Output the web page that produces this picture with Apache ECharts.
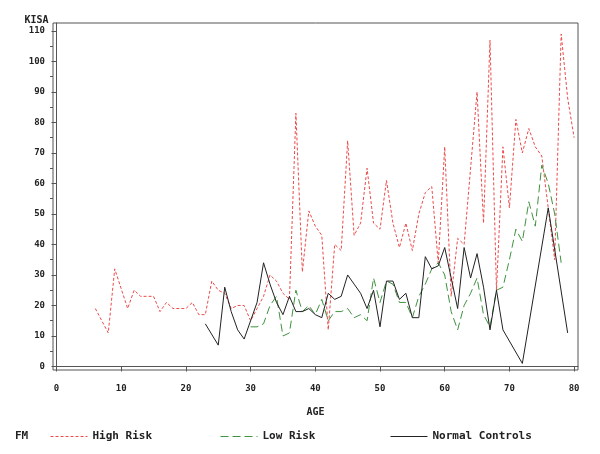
<!DOCTYPE html>
<html>
<head>
<meta charset="utf-8">
<script src="https://cdn.jsdelivr.net/npm/echarts@6/dist/echarts.min.js"></script>
<style>
html,body{margin:0;padding:0;background:#fff;}
#main{width:600px;height:454px;}
</style>
</head>
<body>
<div id="main"></div>
<script>
// High Risk
var highAge=[6,8,9,11,12,13,14,15,16,17,18,19,20,21,22,23,24,25,26,27,28,29,30,31,32,33,34,35,36,37,38,39,40,
    41,42,43,44,45,46,47,48,49,50,51,52,53,54,55,56,57,58,59,60,61,62,63,65,66,67,68,69,70,71,72,73,74,75,76,77,78,79,80];
var highVal=[19,11,32,19,25,23,23,23,18,21,19,19,19,21,17,17,28,25,24,19,20,20,15,19,23,30,28,24,22,83,31,51,46,
    43,12,40,38,74,43,47,65,47,45,61,47,39,47,38,50,57,59,34,72,23,42,40,90,47,107,25,72,52,81,70,78,72,69,52,35,109,88,75];
// Low Risk
var lowAge=[30,31,32,33,34,35,36,37,38,39,40,41,42,43,44,45,46,47,48,49,50,51,52,53,54,55,56,57,58,59,60,
    61,62,63,64,65,66,67,68,69,70,71,72,73,74,75,76,77,78];
var lowVal=[13,13,14,20,23,10,11,25,18,20,17,22,15,18,18,19,16,17,15,29,21,28,27,21,21,16,23,27,32,34,30,
    18,12,20,24,29,17,13,25,26,35,45,41,54,46,66,60,50,34];
// Normal Controls
var normAge=[23,25,26,27,28,29,30,31,32,33,34,35,36,37,38,39,40,41,42,43,44,45,46,47,48,49,50,
    51,52,53,54,55,56,57,58,59,60,61,62,63,64,65,66,67,68,69,72,76,79];
var normVal=[14,7,26,18,12,9,15,21,34,27,21,17,23,18,18,19,17,16,24,22,23,30,27,24,19,25,13,
    28,28,22,24,16,16,36,32,33,39,29,19,39,29,37,26,12,25,12,1,52,11];

var xTicks=[0,10,20,30,40,50,60,70,80];
var yTicks=[0,10,20,30,40,50,60,70,80,90,100,110];
var yMinor=[5,15,25,35,45,55,65,75,85,95,105];

function pairs(a,b){
    var out=[];
    for(var i=0;i<a.length;i++){
        out.push([a[i],b[i]]);
    }
    return out;
}

var font='DejaVu Sans Mono';
var txt={fontFamily:font,fontWeight:'bold',fontSize:11,color:'#222'};

function oneLegend(name,left){
    return {data:[name],left:left,top:426,itemWidth:37,itemHeight:10,
        itemStyle:{opacity:0},lineStyle:{width:1},textStyle:txt};
}

option={
    animation:false,
    backgroundColor:'#fff',
    title:{text:'FM',left:10,top:426,textStyle:txt},
    legend:[
        oneLegend('High Risk',45),
        oneLegend('Low Risk',215),
        oneLegend('Normal Controls',385)
    ],
    grid:{
        left:53,right:22,top:23,bottom:84,
        show:true,borderColor:'#555',borderWidth:1
    },
    xAxis:{
        type:'value',
        min:-0.54,max:80.6,
        name:'AGE',nameLocation:'middle',nameGap:37,
        nameTextStyle:{fontFamily:font,fontWeight:'bold',fontSize:10,color:'#222'},
        axisLine:{lineStyle:{color:'#555'}},
        axisTick:{customValues:xTicks,length:5,lineStyle:{color:'#555'}},
        axisLabel:{customValues:xTicks,margin:14,fontFamily:font,fontWeight:'bold',fontSize:9,color:'#222'},
        splitLine:{show:false}
    },
    yAxis:[
        {
            type:'value',
            min:-1.15,max:112.6,
            name:'KISA',nameLocation:'end',nameGap:3,
            nameTextStyle:{fontFamily:font,fontWeight:'bold',fontSize:10,color:'#222',align:'right',verticalAlign:'middle',padding:[0,8,0,0]},
            axisLine:{show:true,lineStyle:{color:'#555'}},
            axisTick:{customValues:yTicks,length:5,lineStyle:{color:'#555'}},
            axisLabel:{customValues:yTicks,margin:8,fontFamily:font,fontWeight:'bold',fontSize:9,color:'#222'},
            splitLine:{show:false}
        },
        {
            //次刻度
            type:'value',
            min:-1.15,max:112.6,
            position:'left',
            axisLine:{show:false},
            axisTick:{customValues:yMinor,length:3,lineStyle:{color:'#555'}},
            axisLabel:{show:false},
            splitLine:{show:false}
        }
    ],
    series:[
        {
            name:'High Risk',type:'line',symbol:'none',
            lineStyle:{color:'#ec4b4b',width:1,type:[3,2]},
            itemStyle:{color:'#ec4b4b'},
            data:pairs(highAge,highVal)
        },
        {
            name:'Low Risk',type:'line',symbol:'none',
            lineStyle:{color:'#3f923f',width:1,type:[8,4]},
            itemStyle:{color:'#3f923f'},
            data:pairs(lowAge,lowVal)
        },
        {
            name:'Normal Controls',type:'line',symbol:'none',
            lineStyle:{color:'#222',width:1},
            itemStyle:{color:'#222'},
            data:pairs(normAge,normVal)
        }
    ]
};

var myChart=echarts.init(document.getElementById('main'));
myChart.setOption(option);
</script>
</body>
</html>
